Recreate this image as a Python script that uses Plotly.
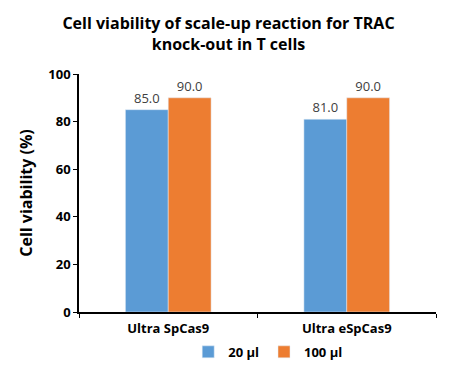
import plotly.graph_objects as go

categories = ["Ultra SpCas9", "Ultra eSpCas9"]
series_names = ["20 µl", "100 µl"]
values_20 = [85.0, 81.0]
values_100 = [90.0, 90.0]
colors = ["#5B9BD5", "#ED7D31"]
y_ticks = [0, 20, 40, 60, 80, 100]

fig = go.Figure()
for name, vals, col in zip(series_names, [values_20, values_100], colors):
    fig.add_trace(go.Bar(
        x=categories, y=vals, name=name, marker_color=col,
        text=[f"{v:.1f}" for v in vals], textposition="outside",
        textfont=dict(family="Open Sans", size=13, color="#404040"),
        cliponaxis=False,
    ))

# page body has an 8px default margin, so the figure is sized/offset to compensate
fig.update_layout(
    width=450, height=367,
    margin=dict(l=71, r=22, t=66, b=63, autoexpand=False),
    paper_bgcolor="white", plot_bgcolor="white",
    barmode="group", bargap=0.52, bargroupgap=0,
    title=dict(text="<b>Cell viability of scale-up reaction for TRAC<br>knock-out in T cells</b>",
               x=0.49, xanchor="center", xref="container", yref="container",
               y=0.943, yanchor="middle",
               font=dict(family="Open Sans", size=16, color="black")),
    font=dict(family="Open Sans", color="black"),
    legend=dict(orientation="h", x=0.53, xanchor="center", yref="container",
                y=0.063, yanchor="middle",
                font=dict(family="Open Sans", size=13, color="black", weight="bold"),
                itemwidth=30, traceorder="normal"),
    showlegend=True,
)
fig.update_xaxes(showline=True, linecolor="black", linewidth=1.5, automargin=False,
                 ticks="outside", tickson="boundaries", ticklen=4, tickcolor="black",
                 ticklabelstandoff=4,
                 tickfont=dict(family="Open Sans", size=13, color="black", weight="bold"),
                 showgrid=False)
fig.update_yaxes(range=[0, 100], tickvals=y_ticks, showline=True, linecolor="black", linewidth=1.5,
                 automargin=False,
                 ticks="outside", ticklen=4, tickcolor="black", showgrid=False, zeroline=False,
                 tickfont=dict(family="Open Sans", size=13, color="black", weight="bold"),
                 title=dict(text="<b>Cell viability (%)</b>", standoff=12,
                            font=dict(family="Open Sans", size=16, color="black")))
fig.write_html("out.html")
